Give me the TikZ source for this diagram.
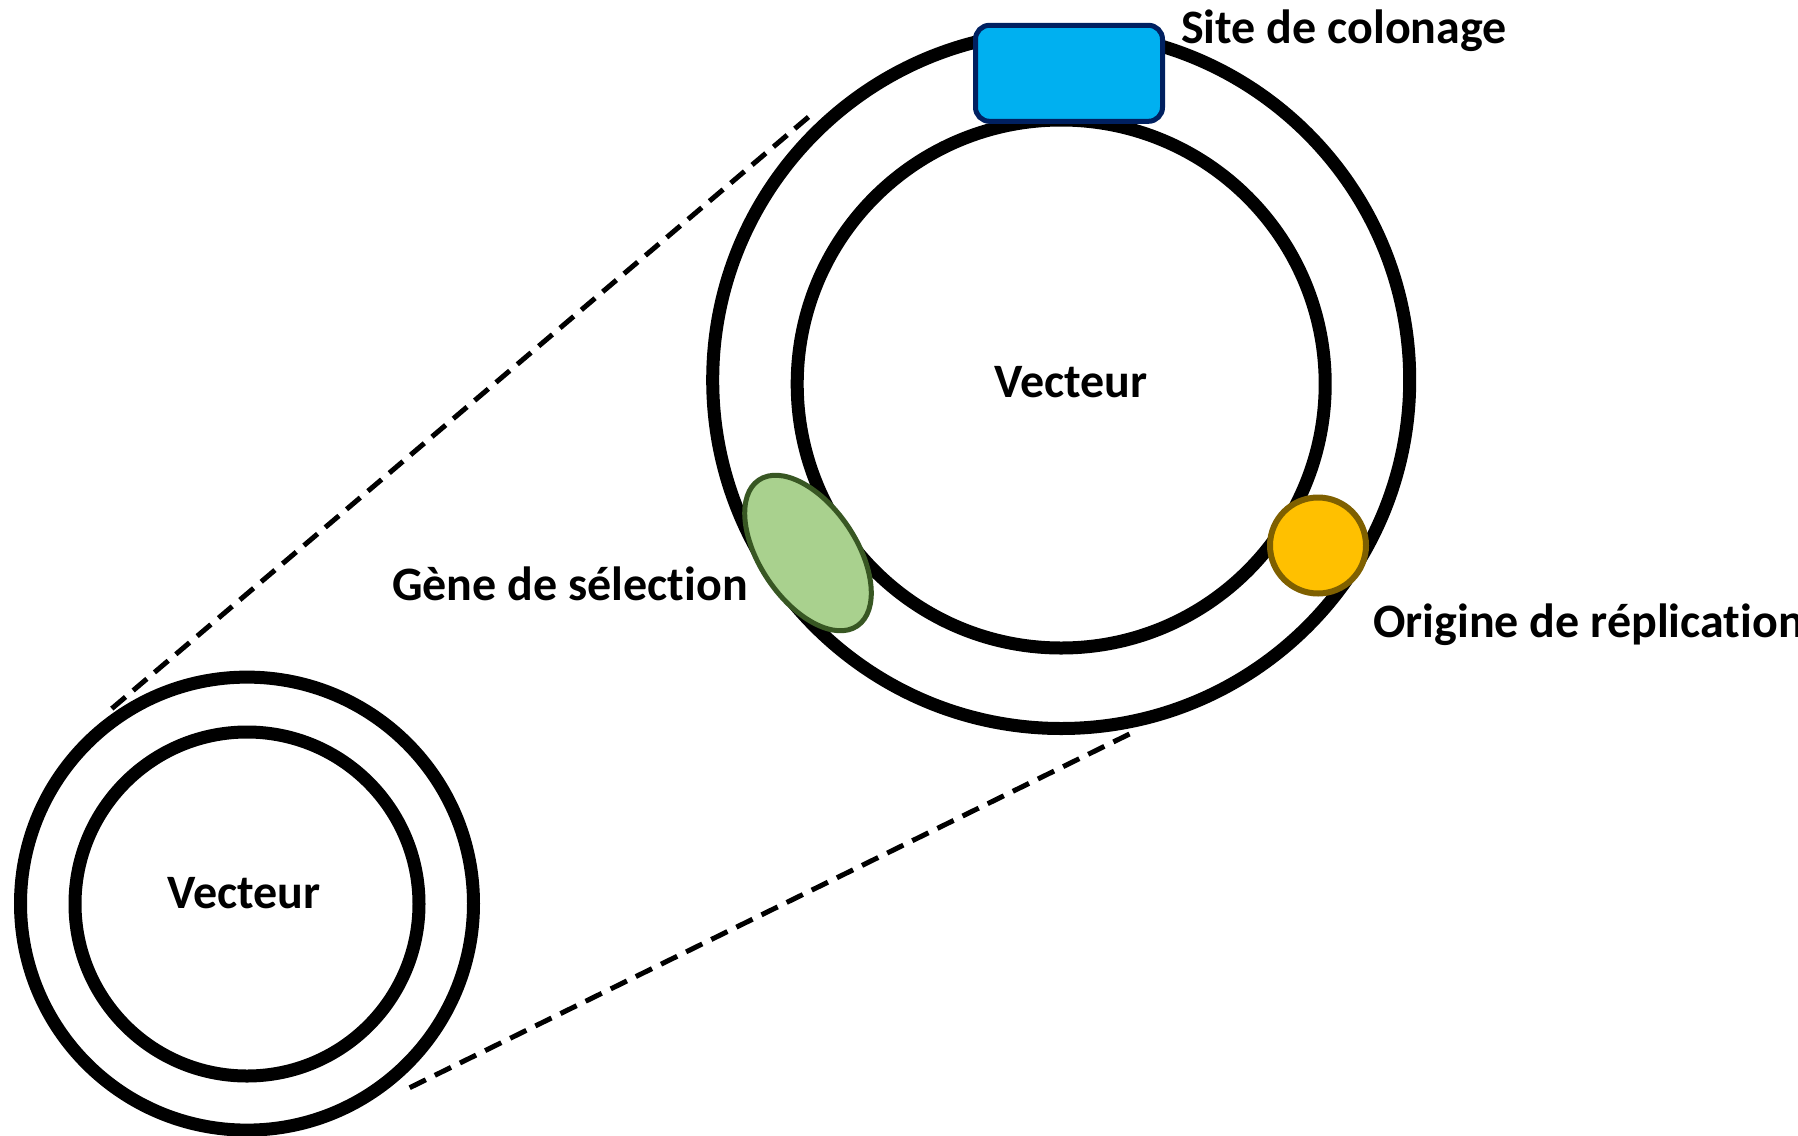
\documentclass[tikz,border=0pt]{standalone}
\usepackage{fontspec}
\setmainfont[Ligatures=NoCommon]{Carlito}
\usetikzlibrary{shapes.geometric}
\definecolor{siteblue}{HTML}{00B0F0}
\definecolor{sitenavy}{HTML}{002060}
\definecolor{genefill}{HTML}{A9D18E}
\definecolor{genedraw}{HTML}{385723}
\definecolor{orifill}{HTML}{FFC000}
\definecolor{oridraw}{HTML}{7F6000}
\begin{document}
\begin{tikzpicture}[x=1pt,y=-1pt,
  ring/.style={circle,draw=black,line width=13pt,inner sep=0pt,fill=none},
  lbl/.style={font=\fontsize{48}{58}\selectfont\bfseries,inner sep=0pt},
  zoomline/.style={line width=5pt,dash pattern=on 18pt off 10pt}]
\useasboundingbox (0,0) rectangle (1798,1135);
% big vector
\node[ring,minimum size=697pt] (bigout) at (1061.2,380) {};
\node[ring,minimum size=528pt] (bigin) at (1061.2,384) {};
% small vector
\node[ring,minimum size=453pt] (smallout) at (247,903.6) {};
\node[ring,minimum size=344pt] (smallin) at (247,904) {};
% zoom lines
\coordinate (za) at (808.5,117);
\coordinate (zb) at (109,711);
\coordinate (zc) at (1129.5,734);
\coordinate (zd) at (407,1089);
\draw[zoomline] (za) -- (zb);
\draw[zoomline] (zc) -- (zd);
% features
\node[draw=sitenavy,fill=siteblue,line width=5pt,rounded corners=14pt,
  minimum width=187pt,minimum height=96pt,inner sep=0pt] (site) at (1069,73.3) {};
\node[ellipse,draw=genedraw,fill=genefill,line width=5pt,inner sep=0pt,
  minimum width=176pt,minimum height=96pt,rotate=-56] (gene) at (808,553) {};
\node[circle,draw=oridraw,fill=orifill,line width=6pt,inner sep=0pt,
  minimum size=96pt] (ori) at (1318,545.5) {};
% labels
\node[lbl,anchor=base west] (tsite) at (1181,43) {Site de colonage};
\node[lbl] (tbig) at (1071,382) {Vecteur};
\node[lbl] (tsmall) at (244,893) {Vecteur};
\node[lbl,anchor=base west] (tgene) at (392,600) {Gène de sélection};
\node[lbl,anchor=base west] (tori) at (1373,637) {Origine de réplication};
\end{tikzpicture}
\end{document}
